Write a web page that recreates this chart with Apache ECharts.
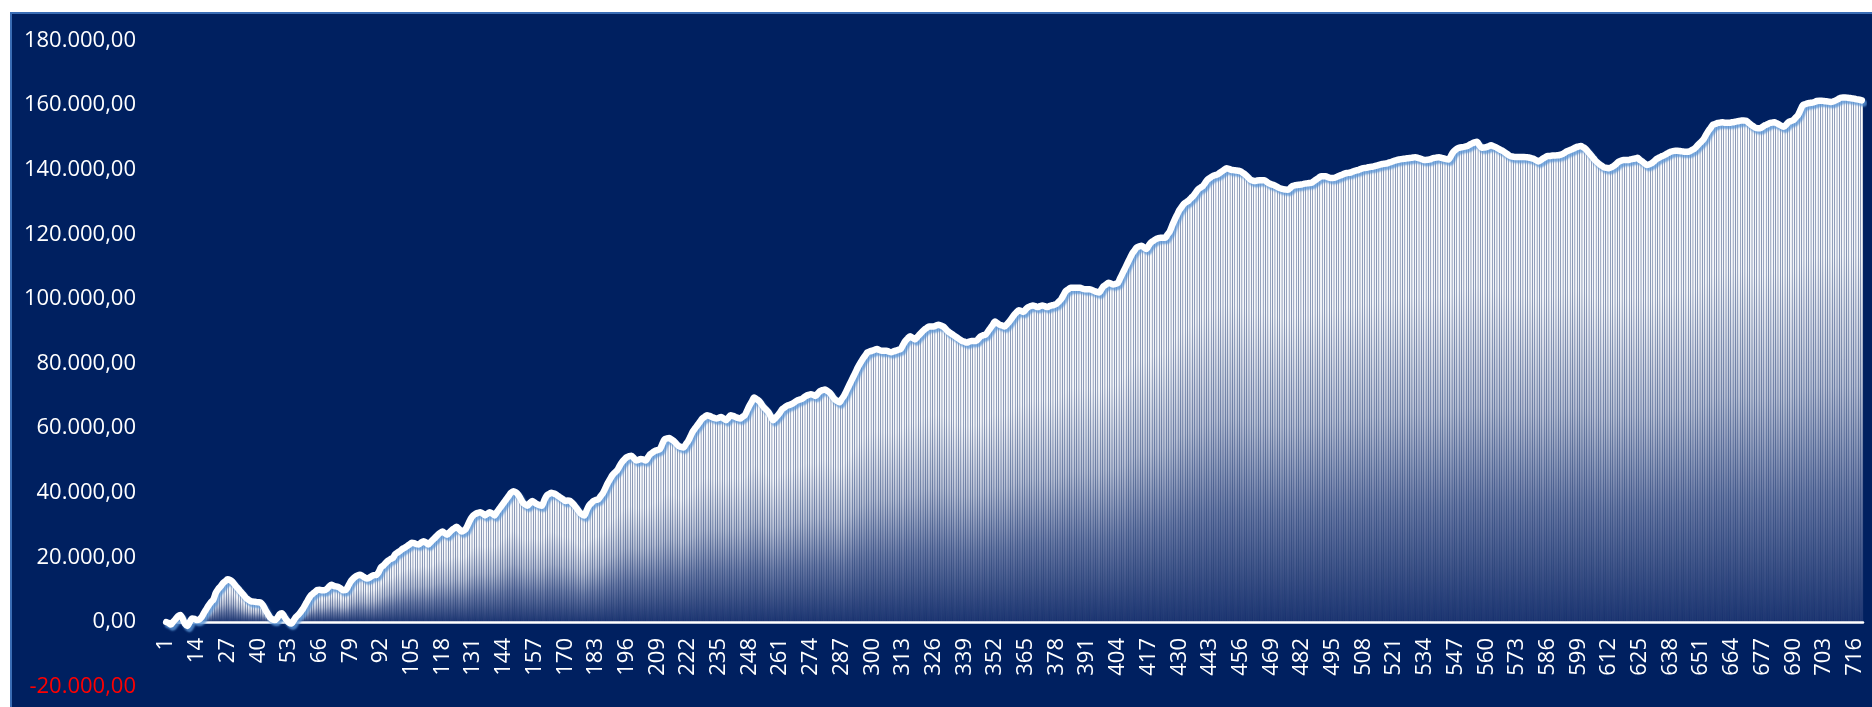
<!DOCTYPE html>
<html>
<head>
<meta charset="utf-8">
<script src="https://cdn.jsdelivr.net/npm/echarts@6/dist/echarts.min.js"></script>
<style>
html,body{margin:0;padding:0;background:#ffffff;width:1872px;height:707px;overflow:hidden;}
#panel{position:absolute;left:10px;top:12px;width:1862px;height:695px;background:#002060;border-left:2px solid #3a6db5;border-top:2px solid #3a6db5;box-sizing:border-box;}
#chart{position:absolute;left:0;top:0;width:1872px;height:707px;}
</style>
</head>
<body>
<div id="panel"></div>
<div id="chart"></div>
<script>
const yTicks = { min: -20000, max: 180000, interval: 20000 };
const labelStep = 13;
const values = [
0,-300,-800,100,900,1800,2200,1000,-600,-1200,0,1100,1000,600,800,1500,2800,4000,5200,6200,
7000,9000,10200,11000,12000,12600,13200,13000,12500,11600,10700,9900,9000,8200,7300,6800,6400,6300,6200,6100,
6000,5200,3800,2600,1400,800,600,1200,2400,2700,1700,600,-200,-500,500,1600,2300,3200,4200,5500,
6800,8000,8700,9300,9900,10000,9800,9800,10200,11000,11500,11200,11000,10800,10300,9800,9900,11000,12400,13300,
14000,14400,14600,14300,13800,13500,13700,14200,14500,14600,15500,17000,17500,18300,19000,19500,19800,21000,21500,22000,
22600,23000,23500,24000,24500,24400,24100,24000,24600,25000,24600,24000,24800,25500,26200,27000,27600,28000,27500,27000,
27800,28500,29000,29500,28800,28000,28300,29000,30500,32000,33000,33500,33800,34000,33600,33000,33500,34000,33600,33000,
34000,35000,36000,37000,38000,39000,40000,40500,40200,39500,38300,37000,36400,36000,36800,37500,37000,36500,36200,36000,
37500,39000,39600,40000,39800,39500,39000,38500,38000,37500,37600,37500,36800,36000,35000,34000,33300,33000,34500,36000,
36800,37500,37800,38000,39000,40000,41500,43000,44300,45500,46300,47000,48300,49500,50300,51000,51300,51500,50800,50000,
50200,50500,50300,50000,51000,52000,52500,53000,53200,53500,55000,56500,56800,57000,56500,56000,55200,54500,54200,54000,
55000,56000,57500,59000,60000,61000,62000,63000,63500,64000,63800,63500,63200,63000,63200,63500,63000,62500,63200,64000,
63800,63500,63200,63000,63500,64000,65500,67000,68300,69500,69000,68500,67500,66500,65800,65000,63700,62500,63200,64000,
65000,66000,66500,67000,67200,67500,68000,68500,68800,69000,69500,70000,70300,70500,70300,70000,70800,71500,71800,72000,
71500,71000,70000,69000,68500,68000,69000,70000,71500,73000,74500,76000,77500,79000,80300,81500,82500,83500,83800,84000,
84300,84500,84200,84000,84000,84000,83700,83500,83800,84000,84300,84500,85800,87000,87800,88500,88000,87500,88200,89000,
89800,90500,91000,91500,91500,91500,91800,92000,91800,91500,90800,90000,89500,89000,88500,88000,87500,87000,86800,86500,
86800,87000,87000,87000,87800,88500,88800,89000,90000,91000,92000,93000,92500,92000,91800,91500,92200,93000,94000,95000,
95800,96500,96300,96000,96800,97500,97800,98000,97800,97500,97800,98000,97800,97500,97800,98000,98200,98500,99200,100000,
101300,102500,103000,103500,103500,103500,103500,103500,103200,103000,103000,103000,102800,102500,102200,102000,103000,104000,104500,105000,
104800,104500,104700,105000,106500,108000,109500,111000,112500,114000,115000,116000,116300,116500,116000,115500,116500,117500,118000,118500,
118800,119000,119000,119000,120000,121000,122800,124500,126000,127500,128500,129500,130000,130500,131300,132000,133000,134000,134500,135000,
136000,137000,137500,138000,138300,138500,139000,139500,140000,140500,140300,140000,139900,139800,139700,139500,139000,138500,137800,137000,
136700,136500,136700,136800,136800,136800,136300,135800,135500,135300,134900,134500,134200,134000,133900,133800,134400,135000,135200,135300,
135400,135500,135700,135800,135900,136000,136500,137000,137500,138000,138000,138000,137700,137500,137500,137600,137900,138200,138500,138800,
139000,139100,139300,139600,139800,140000,140300,140500,140600,140800,140900,141000,141200,141400,141600,141800,141900,142000,142300,142500,
142800,143000,143200,143300,143400,143500,143600,143700,143800,143900,143700,143500,143200,143000,143100,143200,143500,143700,143800,143900,
143700,143500,143300,143200,144300,145500,146200,146700,146900,147000,147200,147400,147800,148200,148500,148700,147700,146800,146900,147000,
147300,147600,147300,147000,146600,146200,145800,145300,144800,144300,144100,144000,144000,144000,144000,144000,143900,143800,143600,143400,
143000,142600,143000,143500,143900,144300,144300,144400,144400,144500,144600,144800,145200,145700,146000,146300,146600,147000,147200,147400,
147000,146500,145600,144800,143900,143000,142300,141700,141200,140700,140600,140500,140800,141200,141800,142500,142800,143000,143000,143000,
143200,143400,143500,143700,143100,142600,142000,141500,141700,142000,142600,143300,143700,144100,144400,144800,145200,145600,145800,145900,
145900,145800,145700,145600,145600,145700,146100,146500,147200,148000,148700,149500,150800,152000,153000,154000,154200,154500,154600,154700,
154600,154600,154600,154700,154800,155000,155100,155300,155300,155200,154600,154000,153500,153000,152900,152900,153300,153800,154100,154500,
154600,154700,154400,154000,153600,153300,154000,154800,155100,155400,156200,157000,158500,160000,160300,160600,160700,160800,161000,161300,
161400,161400,161300,161200,161100,161000,161200,161500,161900,162300,162400,162400,162300,162200,162100,162000,161800,161700,161500
];
const categories = values.map((v, i) => String(i + 1));

function fmt(v) {
  const neg = v < 0;
  const a = Math.abs(v);
  const s = String(Math.round(a)).replace(/\B(?=(\d{3})+(?!\d))/g, '.');
  return (neg ? '-' : '') + s + ',00';
}

const gridTop = 40.6, gridBottom = 20.4, chartH = 707;
const plotH = chartH - gridTop - gridBottom;
// distance from bottom of grid to the zero line, from the axis range
const zeroOffset = plotH * (0 - yTicks.min) / (yTicks.max - yTicks.min);

const chart = echarts.init(document.getElementById('chart'), null, { renderer: 'canvas' });
chart.setOption({
  animation: false,
  backgroundColor: 'transparent',
  grid: { left: 165, right: 9, top: gridTop, bottom: gridBottom, containLabel: false, outerBoundsMode: 'none' },
  xAxis: {
    type: 'category',
    data: categories,
    boundaryGap: true,
    position: 'bottom',
    offset: -zeroOffset,
    z: 3,
    axisLine: { show: true, onZero: false, lineStyle: { color: '#ffffff', width: 2.5 } },
    axisTick: { show: false },
    axisLabel: {
      interval: labelStep - 1,
      rotate: 90,
      margin: 16,
      color: '#ffffff',
      fontFamily: 'Open Sans',
      fontSize: 22,
      hideOverlap: false
    },
    splitLine: { show: false }
  },
  yAxis: {
    type: 'value',
    min: yTicks.min,
    max: yTicks.max,
    interval: yTicks.interval,
    axisLine: { show: false },
    axisTick: { show: false },
    splitLine: { show: false },
    axisLabel: {
      margin: 29,
      fontFamily: 'Open Sans',
      fontSize: 22,
      color: function (v) { return Number(v) < 0 ? '#ff0000' : '#ffffff'; },
      formatter: function (v) { return fmt(v); }
    }
  },
  series: [
    {
      type: 'bar',
      data: values,
      barCategoryGap: '0%',
      z: 2,
      itemStyle: {
        borderColor: 'rgba(255,255,255,0.15)',
        borderWidth: 0.4,
        color: new echarts.graphic.LinearGradient(0, 0, 0, 1, [
          { offset: 0, color: '#ffffff' },
          { offset: 0.3, color: '#f3f5f9' },
          { offset: 0.55, color: '#b4bdd3' },
          { offset: 0.75, color: '#6677a3' },
          { offset: 1, color: '#17306e' }
        ])
      }
    },
    {
      type: 'line',
      data: values,
      z: 4,
      symbol: 'none',
      smooth: 0.3,
      lineStyle: {
        color: '#ffffff',
        width: 6.5,
        join: 'round',
        cap: 'round',
        shadowColor: 'rgba(91,150,215,0.8)',
        shadowOffsetX: 2,
        shadowOffsetY: 3,
        shadowBlur: 2
      }
    }
  ]
});
</script>
</body>
</html>
